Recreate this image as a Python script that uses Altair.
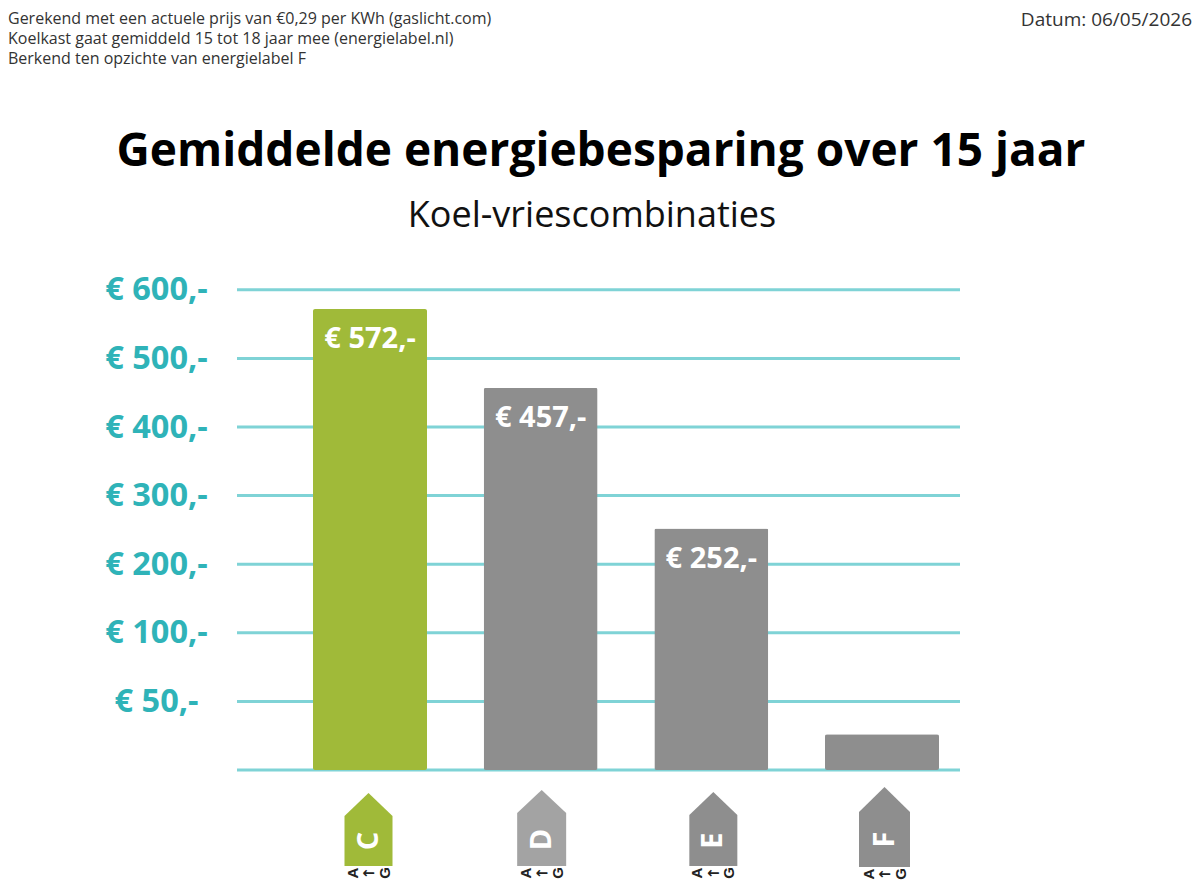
import altair as alt
import pandas as pd

notes = ["Gerekend met een actuele prijs van €0,29 per KWh (gaslicht.com)",
         "Koelkast gaat gemiddeld 15 tot 18 jaar mee (energielabel.nl)",
         "Berkend ten opzichte van energielabel F"]
date_text = "Datum: 06/05/2026"
title_text = "Gemiddelde energiebesparing over 15 jaar"
subtitle_text = "Koel-vriescombinaties"

labels = ["C", "D", "E", "F"]
values = [572, 457, 252, 26]
value_labels = ["€ 572,-", "€ 457,-", "€ 252,-", ""]
colors = ["#a0ba39", "#8e8e8e", "#8e8e8e", "#8e8e8e"]
ticks = [0, 50, 100, 200, 300, 400, 500, 600]
badge_colors = ["#a0ba39", "#a3a3a3", "#8e8e8e", "#8e8e8e"]

FONT = "Open Sans"
TEAL = "#7fd3d6"
TICK = "#2fb3b8"

xs = alt.Scale(type="point", domain=labels, range=[362, 874], padding=0)
ys = alt.Scale(domain=ticks, range=[762 - i * 68.6 for i in range(len(ticks))])
X = alt.X("label:N", scale=xs, axis=None)

df = pd.DataFrame({"label": labels, "value": values, "text": value_labels, "color": colors})
tdf = pd.DataFrame({"tick": ticks})

grid = alt.Chart(tdf).mark_rule(color=TEAL, strokeWidth=3).encode(
    y=alt.Y("tick:Q", scale=ys, axis=alt.Axis(
        values=ticks[1:], labelExpr="'€ ' + datum.value + ',-'", domain=False, ticks=False, grid=False,
        title=None, labelFont=FONT, labelFontSize=32.5, labelFontWeight=700, labelColor=TICK,
        labelAlign="center", labelPadding=0, offset=-148)),
    x=alt.value(229), x2=alt.value(952))

bars = alt.Chart(df).mark_bar(size=114, cornerRadius=2).encode(
    x=X, y=alt.Y("value:Q", scale=ys), color=alt.Color("color:N", scale=None))

bar_text = alt.Chart(df).mark_text(font=FONT, fontSize=29, fontWeight=700, color="white", dy=30).encode(
    x=X, y=alt.Y("value:Q", scale=ys), text="text:N")

layers = [grid, bars, bar_text]


def fixed_text(txt, x, y, **kw):
    d = pd.DataFrame({"t": [txt]})
    return alt.Chart(d).mark_text(font=FONT, **kw).encode(x=alt.value(x), y=alt.value(y), text="t:N")


# badges: (half width, body height, roof height, centre x offset, top y)
geom = {"C": (24, 50, 23, -1.5, 785), "D": (24.5, 53, 23, 1, 782), "E": (24, 51, 23, 2, 784), "F": (25.5, 55, 25, 2.5, 779)}
for lab, col in zip(labels, badge_colors):
    hw, body, roof, off, top = geom[lab]
    total = body + roof
    path = f"M0,0 L{hw},{roof} L{hw},{total} L{-hw},{total} L{-hw},{roof} Z"
    d = pd.DataFrame({"label": [lab]})
    base = alt.Chart(d)
    cx = alt.X("label:N", scale=xs, axis=None)
    layers.append(base.mark_point(shape=path, size=4, filled=True, fill=col, opacity=1, xOffset=off).encode(
        x=cx, y=alt.value(top)))
    cy = top + roof + body * 0.5
    layers.append(base.mark_text(font=FONT, fontSize=29, fontWeight=700, color="white", angle=270, xOffset=off).encode(
        x=cx, y=alt.value(cy), text="label:N"))
    for ch, dx in (("A", -16), ("←", 0), ("G", 16)):
        layers.append(alt.Chart(pd.DataFrame({"label": [lab], "c": [ch]})).mark_text(
            font="Liberation Sans" if ch != "←" else "DejaVu Sans", fontSize=15,
            fontWeight=700, color="#222222",
            angle=270 if ch != "←" else 0, xOffset=off + dx).encode(
            x=cx, y=alt.value(top + total + 7), text="c:N"))

for txt, y in zip(notes, [11, 31, 51]):
    layers.append(fixed_text(txt, 0, y, fontSize=16, align="left", color="#333333"))
layers.append(fixed_text(date_text, 1184, 12, fontSize=19, align="right", color="#333333"))
layers.append(fixed_text(title_text, 593, 144, fontSize=46, fontWeight=700, align="center", color="#000000"))
layers.append(fixed_text(subtitle_text, 584, 208, fontSize=36, align="center", color="#111111"))

chart = alt.layer(*layers).properties(
    width=1184, height=873, padding=0, autosize=alt.AutoSizeParams(type="none"),
    background="white"
).configure_view(stroke=None)

chart.save("out.html", embed_options={"renderer": "svg", "actions": False})
